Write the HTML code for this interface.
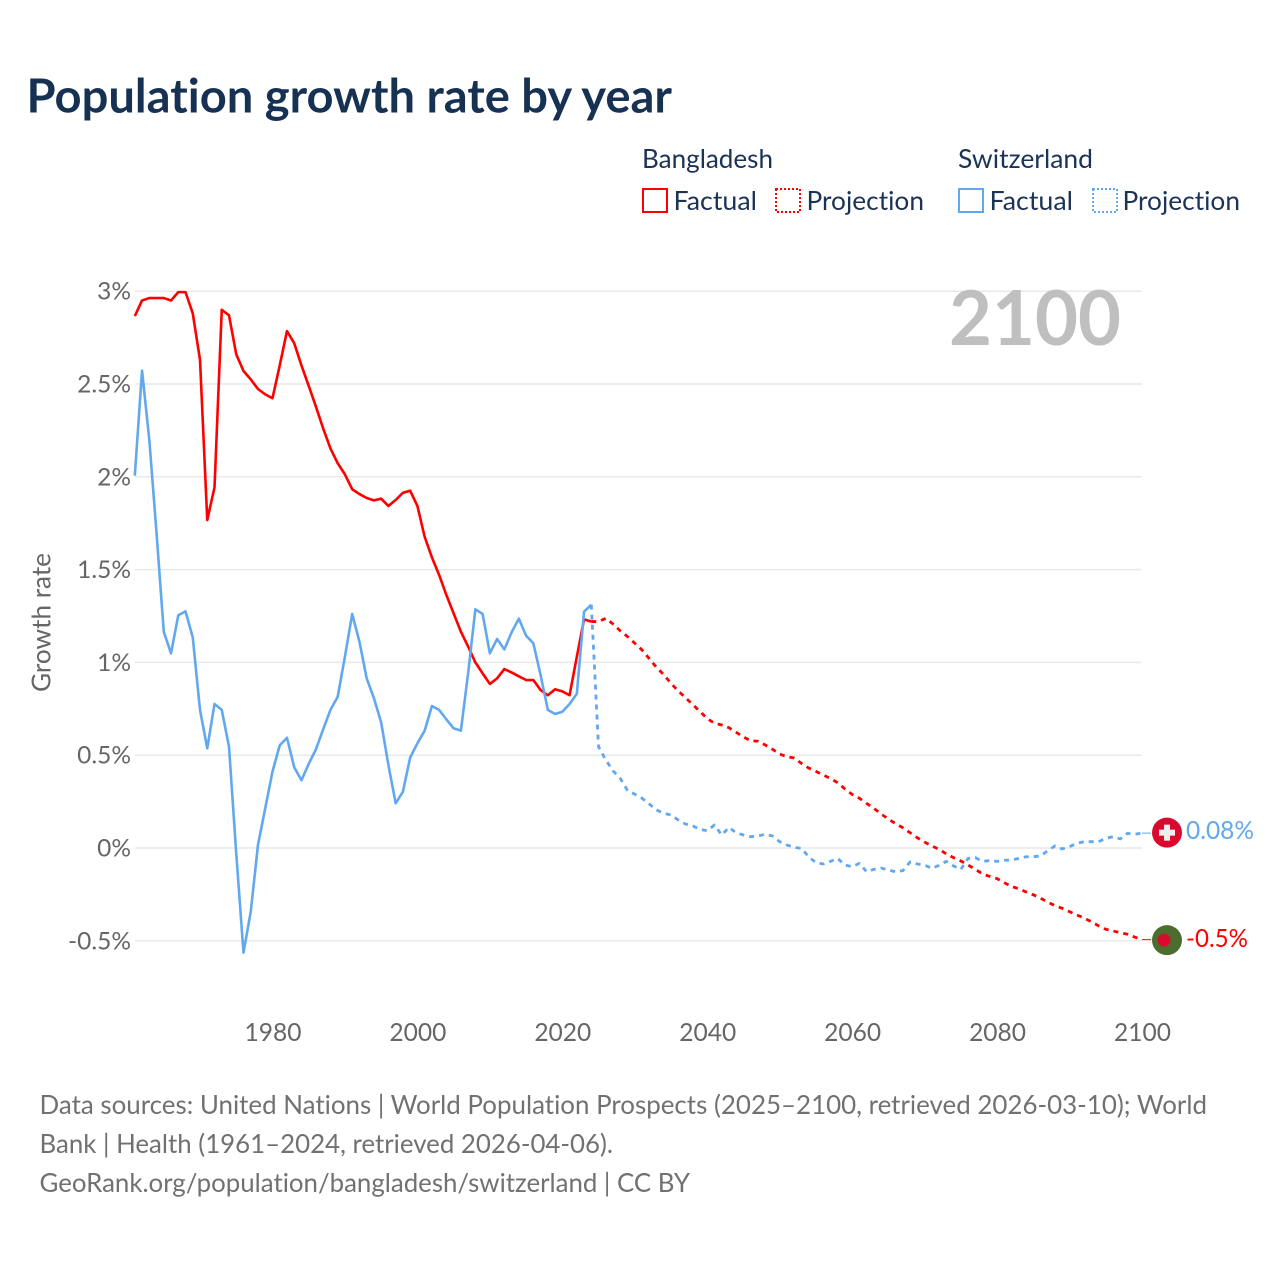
<!DOCTYPE html>
<html lang="en">
<head>
<meta charset="utf-8">
<title>Population growth rate by year</title>
<style>
html,body{margin:0;padding:0;background:#fff;width:1280px;height:1280px;overflow:hidden}
svg{display:block}
text{font-family:"Lato","Liberation Sans",sans-serif;font-variant-ligatures:none;font-feature-settings:"liga" 0}
</style>
</head>
<body>
<svg id="chart" width="1280" height="1280" viewBox="0 0 1280 1280" xmlns="http://www.w3.org/2000/svg">
  <text x="26.5" y="112.5" font-size="47" font-weight="700" fill="#163152" textLength="645.5" lengthAdjust="spacingAndGlyphs">Population growth rate by year</text>

  <g font-size="26" fill="#1b3355">
    <text x="642" y="168" textLength="131" lengthAdjust="spacingAndGlyphs">Bangladesh</text>
    <text x="958" y="168" textLength="135" lengthAdjust="spacingAndGlyphs">Switzerland</text>
    <rect x="643" y="189" width="24" height="23" fill="none" stroke="#ff0000" stroke-width="2"/>
    <text x="673.5" y="210" textLength="83.5" lengthAdjust="spacingAndGlyphs">Factual</text>
    <rect x="776" y="189" width="24" height="23" fill="none" stroke="#ff0000" stroke-width="2" stroke-dasharray="2 2"/>
    <text x="806.5" y="210" textLength="117.5" lengthAdjust="spacingAndGlyphs">Projection</text>
    <rect x="959" y="189" width="24" height="23" fill="none" stroke="#62a8ee" stroke-width="2"/>
    <text x="989.5" y="210" textLength="83.5" lengthAdjust="spacingAndGlyphs">Factual</text>
    <rect x="1093" y="189" width="24" height="23" fill="none" stroke="#62a8ee" stroke-width="2" stroke-dasharray="2 2"/>
    <text x="1122.5" y="210" textLength="117.5" lengthAdjust="spacingAndGlyphs">Projection</text>
  </g>

  <g id="grid"></g>
  <g id="y-ticks"></g>
  <g id="x-ticks"></g>

  <text transform="translate(50.5,622.5) rotate(-90)" text-anchor="middle" font-size="26" fill="#666666" textLength="139" lengthAdjust="spacingAndGlyphs">Growth rate</text>
  <text x="949" y="345" font-size="76" font-weight="700" fill="#bfbfbf" textLength="172" lengthAdjust="spacingAndGlyphs">2100</text>

  <g id="series"></g>
  <g id="end-markers"></g>

  <g font-size="26" fill="#717171">
    <text x="39.5" y="1114" textLength="1167.5" lengthAdjust="spacingAndGlyphs">Data sources: United Nations | World Population Prospects (2025–2100, retrieved 2026-03-10); World</text>
    <text x="39.5" y="1153" textLength="573.5" lengthAdjust="spacingAndGlyphs">Bank | Health (1961–2024, retrieved 2026-04-06).</text>
    <text x="39.5" y="1192" textLength="650.5" lengthAdjust="spacingAndGlyphs">GeoRank.org/population/bangladesh/switzerland | CC BY</text>
  </g>
</svg>

<script>
const yTickValues = [-0.5, 0, 0.5, 1, 1.5, 2, 2.5, 3];
const yTickLabels = ['-0.5%', '0%', '0.5%', '1%', '1.5%', '2%', '2.5%', '3%'];
const xTickYears = [1980, 2000, 2020, 2040, 2060, 2080, 2100];

const factualStartYear = 1961;
const projectionStartYear = 2024;

const bangladeshFactual = [
  2.866, 2.95, 2.963, 2.963, 2.963, 2.95, 2.995, 2.995, 2.88, 2.63,
  1.767, 1.943, 2.90, 2.87, 2.66, 2.57, 2.525, 2.473, 2.444, 2.423,
  2.60, 2.785, 2.72, 2.60, 2.49, 2.378, 2.26, 2.153, 2.073, 2.013,
  1.933, 1.907, 1.886, 1.873, 1.882, 1.843, 1.875, 1.914, 1.925, 1.843,
  1.677, 1.566, 1.471, 1.363, 1.264, 1.166, 1.085, 1.0, 0.941, 0.884,
  0.914, 0.964, 0.946, 0.925, 0.905, 0.905, 0.851, 0.823, 0.855, 0.844,
  0.823, 1.03, 1.232, 1.22
];
const bangladeshProjection = [
  1.22, 1.22, 1.237, 1.207, 1.17, 1.139, 1.103, 1.067, 1.02, 0.973,
  0.934, 0.887, 0.846, 0.81, 0.772, 0.736, 0.697, 0.672, 0.663, 0.648,
  0.623, 0.598, 0.578, 0.575, 0.555, 0.532, 0.506, 0.492, 0.485, 0.456,
  0.431, 0.413, 0.393, 0.375, 0.352, 0.318, 0.289, 0.268, 0.24, 0.214,
  0.183, 0.156, 0.131, 0.109, 0.082, 0.055, 0.032, 0.011, -0.007, -0.032,
  -0.052, -0.07, -0.092, -0.115, -0.14, -0.153, -0.165, -0.187, -0.208, -0.219,
  -0.237, -0.252, -0.271, -0.291, -0.311, -0.325, -0.343, -0.361, -0.377, -0.397,
  -0.419, -0.438, -0.447, -0.456, -0.465, -0.48, -0.494
];
const switzerlandFactual = [
  2.006, 2.572, 2.2, 1.697, 1.165, 1.049, 1.254, 1.275, 1.135, 0.744,
  0.537, 0.776, 0.744, 0.546, -0.029, -0.564, -0.343, 0.016, 0.214, 0.411,
  0.553, 0.594, 0.435, 0.365, 0.453, 0.532, 0.64, 0.744, 0.815, 1.031,
  1.261, 1.112, 0.914, 0.807, 0.677, 0.447, 0.241, 0.303, 0.487, 0.564,
  0.632, 0.765, 0.744, 0.693, 0.645, 0.632, 0.941, 1.286, 1.261, 1.049,
  1.126, 1.07, 1.162, 1.236, 1.144, 1.103, 0.932, 0.744, 0.722, 0.734,
  0.776, 0.831, 1.273, 1.311
];
const switzerlandProjection = [
  1.311, 0.546, 0.474, 0.416, 0.375, 0.31, 0.29, 0.268, 0.237, 0.205,
  0.187, 0.178, 0.151, 0.129, 0.119, 0.1, 0.093, 0.124, 0.07, 0.111,
  0.082, 0.07, 0.061, 0.065, 0.074, 0.065, 0.034, 0.016, 0.004, -0.002,
  -0.047, -0.079, -0.086, -0.072, -0.056, -0.092, -0.101, -0.083, -0.128, -0.115,
  -0.108, -0.119, -0.128, -0.122, -0.075, -0.086, -0.092, -0.11, -0.093, -0.072,
  -0.097, -0.115, -0.056, -0.052, -0.072, -0.068, -0.072, -0.066, -0.065, -0.056,
  -0.047, -0.047, -0.043, -0.014, 0.011, -0.005, 0.007, 0.025, 0.034, 0.034,
  0.034, 0.052, 0.061, 0.049, 0.079, 0.074, 0.08
];

const endLabelBangladesh = '-0.5%';
const endLabelSwitzerland = '0.08%';

const SVG_NS = 'http://www.w3.org/2000/svg';
const RED = '#ff0000';
const BLUE = '#62a8ee';
const GRID_LEFT = 135;
const GRID_RIGHT = 1142;

function xScale(year) {
  return 134.8 + (year - 1961) * 7.246;
}
function yScale(value) {
  return 848 - value * 185.6;
}
function make(tag, attrs, parent, content) {
  const el = document.createElementNS(SVG_NS, tag);
  for (const key in attrs) el.setAttribute(key, attrs[key]);
  if (content !== undefined) el.textContent = content;
  parent.appendChild(el);
  return el;
}
function linePoints(values, startYear) {
  return values.map(function (v, i) {
    return xScale(startYear + i).toFixed(2) + ',' + yScale(v).toFixed(2);
  }).join(' ');
}

const gridGroup = document.getElementById('grid');
const yTickGroup = document.getElementById('y-ticks');
const xTickGroup = document.getElementById('x-ticks');
const seriesGroup = document.getElementById('series');
const markerGroup = document.getElementById('end-markers');

yTickValues.forEach(function (value, i) {
  const line = make('line', {x1: GRID_LEFT, x2: GRID_RIGHT, y1: yScale(value), y2: yScale(value), stroke: '#e9e9e9', 'stroke-width': 1.5}, gridGroup);
  
  
  const label = make('text', {x: 131, y: yScale(value) + 8.5, 'text-anchor': 'end', 'font-size': 24.5, fill: '#666666'}, yTickGroup, yTickLabels[i]);
  
  
});

xTickYears.forEach(function (year) {
  const label = make('text', {x: xScale(year) + 0.5, y: 1041, 'text-anchor': 'middle', 'font-size': 25, fill: '#666666', textLength: 57, lengthAdjust: 'spacingAndGlyphs'}, xTickGroup, String(year));
  
  
});

const bdProjectionLine = make('polyline', {points: linePoints(bangladeshProjection, projectionStartYear), fill: 'none', stroke: RED, 'stroke-width': 2.8, 'stroke-dasharray': '5 5', 'stroke-linejoin': 'round'}, seriesGroup);



const bdFactualLine = make('polyline', {points: linePoints(bangladeshFactual, factualStartYear), fill: 'none', stroke: RED, 'stroke-width': 2.6, 'stroke-linejoin': 'round'}, seriesGroup);



const chProjectionLine = make('polyline', {points: linePoints(switzerlandProjection, projectionStartYear), fill: 'none', stroke: BLUE, 'stroke-width': 2.8, 'stroke-dasharray': '5 5', 'stroke-linejoin': 'round'}, seriesGroup);



const chFactualLine = make('polyline', {points: linePoints(switzerlandFactual, factualStartYear), fill: 'none', stroke: BLUE, 'stroke-width': 2.6, 'stroke-linejoin': 'round'}, seriesGroup);



const chEndY = yScale(switzerlandProjection[switzerlandProjection.length - 1]);
const bdEndY = yScale(bangladeshProjection[bangladeshProjection.length - 1]);
const endX = xScale(2100);

const chLeader = make('line', {x1: endX, x2: endX + 9, y1: chEndY, y2: chEndY, stroke: BLUE, 'stroke-width': 1}, markerGroup);



const bdLeader = make('line', {x1: endX, x2: endX + 9, y1: bdEndY, y2: bdEndY, stroke: RED, 'stroke-width': 1}, markerGroup);



const chFlag = make('g', {transform: 'translate(' + (endX + 25) + ',' + (chEndY - 0.5) + ')'}, markerGroup);


make('circle', {r: 15, fill: '#da0a2e'}, chFlag);
make('rect', {x: -8, y: -3, width: 16, height: 6, fill: '#eeeeee'}, chFlag);
make('rect', {x: -3, y: -8, width: 6, height: 16, fill: '#eeeeee'}, chFlag);

const bdFlag = make('g', {transform: 'translate(' + (endX + 25) + ',' + (bdEndY + 0.5) + ')'}, markerGroup);


make('circle', {r: 15, fill: '#4b6e2f'}, bdFlag);
make('circle', {cx: -3, r: 6.5, fill: '#da0a2e'}, bdFlag);

const chEndLabel = make('text', {x: 1186, y: chEndY + 6, 'font-size': 25, fill: BLUE, textLength: 68, lengthAdjust: 'spacingAndGlyphs'}, markerGroup, endLabelSwitzerland);



const bdEndLabel = make('text', {x: 1186, y: bdEndY + 7.5, 'font-size': 25, fill: RED, textLength: 62, lengthAdjust: 'spacingAndGlyphs'}, markerGroup, endLabelBangladesh);


</script>
</body>
</html>
